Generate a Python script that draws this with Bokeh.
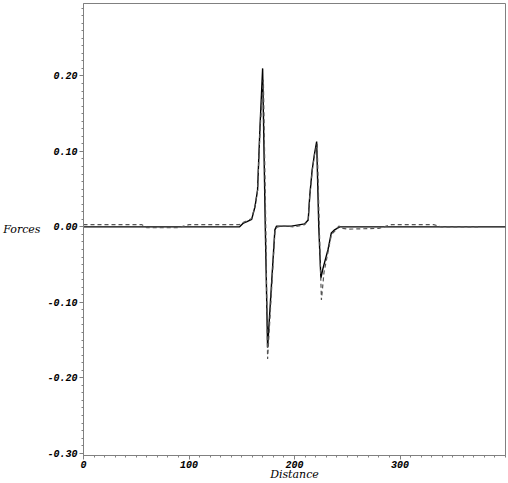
from bokeh.plotting import figure
from bokeh.models import FixedTicker, PrintfTickFormatter, Range1d
from bokeh.embed import file_html
from bokeh.resources import INLINE

# Solid series (Distance, Force)
solid_x = [0, 148, 151.6, 155, 159.4, 162.6, 165, 167.3, 169.8, 172.3, 174.5, 181.4, 183, 197, 209.7,
           213, 214.4, 216.7, 219, 221, 223, 225, 227, 231.8, 234.9, 238, 242.8, 400]
solid_y = [0, 0, 0.005, 0.007, 0.010, 0.027, 0.049, 0.133, 0.210, 0.0, -0.160, -0.004, 0.001, 0.001, 0.004,
           0.009, 0.040, 0.075, 0.097, 0.113, 0.0, -0.068, -0.055, -0.030, -0.008, -0.004, 0.0, 0.0]

# Dashed series
dashed_x = [0, 55, 60, 90, 100, 148, 151.6, 155, 159.4, 162.6, 165, 167.3, 170.5, 172.8, 174.5,
            181.6, 184, 190, 200, 209.7, 213, 214.4, 216.7, 219, 221.5, 223.5, 225.5, 228, 231.8, 235,
            238, 242, 246, 250, 280, 292, 332, 339, 374]
dashed_y = [0.003, 0.003, -0.001, -0.001, 0.003, 0.003, 0.006, 0.008, 0.011, 0.028, 0.048, 0.128, 0.195, 0.0, -0.175,
            -0.003, 0.0, 0.001, 0.0, 0.003, 0.010, 0.040, 0.073, 0.096, 0.110, 0.0, -0.097, -0.060, -0.033, -0.010,
            -0.006, 0.001, -0.002, -0.003, -0.002, 0.003, 0.003, 0.0, 0.0]

x_major = [0, 100, 200, 300]
y_major = [-0.3, -0.2, -0.1, 0.0, 0.1, 0.2]

p = figure(width=508, height=483, output_backend="svg", toolbar_location=None,
           x_range=Range1d(0, 400), y_range=Range1d(-0.303, 0.296),
           min_border_left=81, min_border_right=3, min_border_top=3, min_border_bottom=27)

p.xgrid.visible = False
p.ygrid.visible = False
p.outline_line_color = "#808080"
p.outline_line_width = 1
p.background_fill_color = "white"
p.border_fill_color = "white"

p.line(solid_x, solid_y, line_color="black", line_width=1.4)
p.line(dashed_x, dashed_y, line_color="#555555", line_width=1.2, line_dash="4 3")

p.xaxis.ticker = FixedTicker(ticks=x_major, minor_ticks=[i * 10 for i in range(41)])
p.yaxis.ticker = FixedTicker(ticks=y_major, minor_ticks=[round(-0.30 + i * 0.01, 2) for i in range(60)])
p.yaxis.formatter = PrintfTickFormatter(format="%.2f")

for ax in (p.xaxis[0], p.yaxis[0]):
    ax.axis_line_color = "#808080"
    ax.major_tick_line_color = "#808080"
    ax.minor_tick_line_color = "#808080"
    ax.major_tick_in = 0
    ax.minor_tick_in = 0
    ax.major_tick_out = 4
    ax.minor_tick_out = 2
    ax.major_label_text_font = "Liberation Mono"
    ax.major_label_text_font_style = "bold italic"
    ax.major_label_text_font_size = "10px"
    ax.major_label_text_color = "black"
    ax.major_label_standoff = 2
    ax.axis_label_text_font = "DejaVu Serif"
    ax.axis_label_text_font_style = "italic"
    ax.axis_label_text_font_size = "11px"
    ax.axis_label_text_color = "black"
    ax.axis_label_standoff = 0

p.xaxis.axis_label = "Distance"
p.xaxis.major_label_standoff = 1
p.xaxis.axis_label_standoff = -3
p.yaxis.axis_label = "Forces"
p.yaxis.axis_label_orientation = "horizontal"
p.yaxis.axis_label_standoff = 4

open("out.html", "w").write(file_html(p, INLINE))
